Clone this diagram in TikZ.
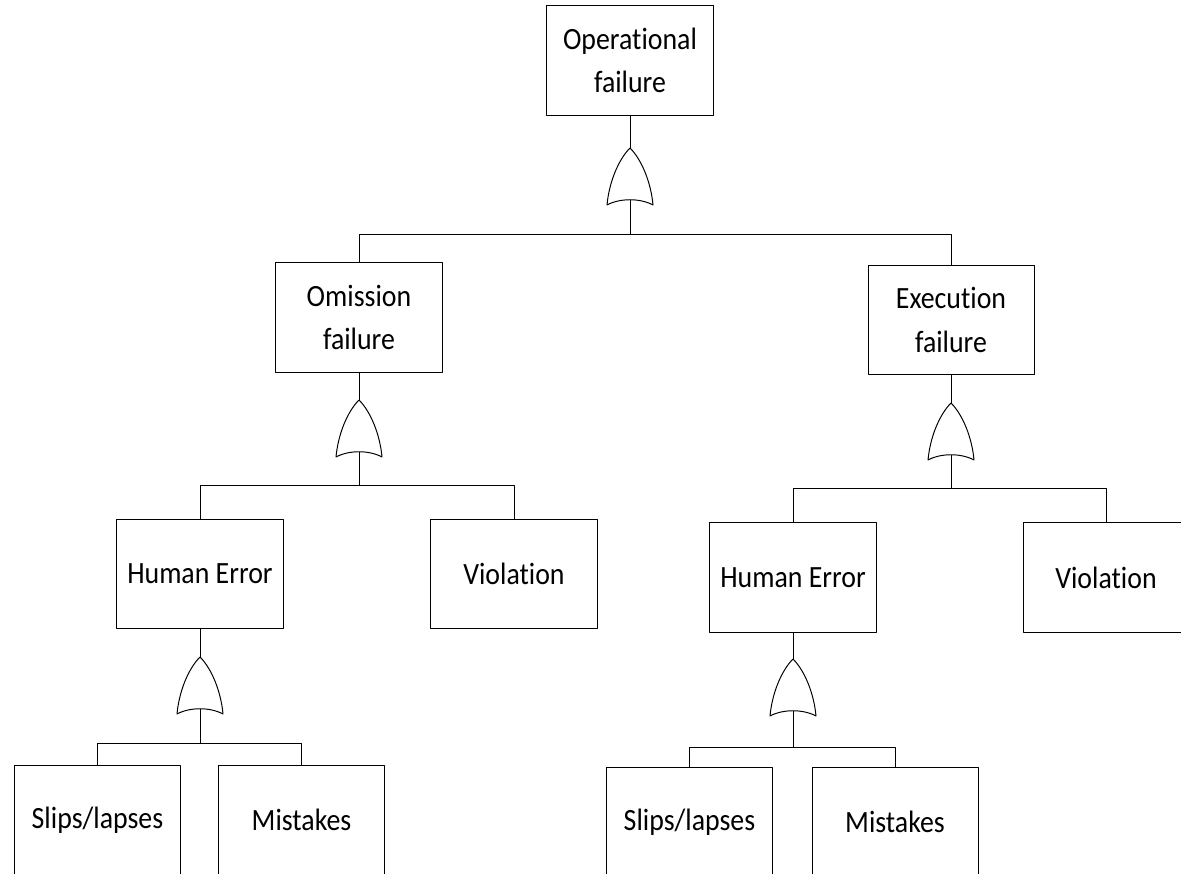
\documentclass[tikz,border=0pt]{standalone}
\usepackage{fontspec}
\setmainfont{Carlito}[Ligatures=NoCommon,FakeStretch=0.9]
\begin{document}
\begin{tikzpicture}[x=0.025cm,y=0.025cm,line join=round,line width=0.7pt]
	\tikzset{box/.style={draw,fill=white,minimum width=4.15cm,minimum height=2.725cm,inner sep=0pt,outer sep=0pt,align=center,font=\fontsize{22}{31}\selectfont},
		orgate/.pic={\draw[fill=white] (0,0) .. controls (12,-12) and (21,-35) .. (23,-57) .. controls (10,-50) and (-10,-50) .. (-23,-57) .. controls (-21,-35) and (-12,-12) .. (0,0);
			\coordinate (-top) at (0,0);
			\coordinate (-bot) at (0,-52);}}
	\clip (0,0) rectangle (1181,873);
	\node[box] (op) at (630,812.5) {Operational\\failure};
	\node[box] (om) at (359,555.5) {Omission\\failure};
	\node[box] (ex) at (951,553) {Execution\\failure};
	\node[box] (heL) at (200,299) {Human Error};
	\node[box] (viL) at (514,299) {Violation};
	\node[box] (heR) at (793,295.5) {Human Error};
	\node[box] (viR) at (1106,295.5) {Violation};
	\node[box] (slL) at (97.5,53) {Slips/lapses};
	\node[box] (miL) at (301.5,53) {Mistakes};
	\node[box] (slR) at (689.5,51) {Slips/lapses};
	\node[box] (miR) at (895,51) {Mistakes};
	\foreach \g/\x/\y/\yj in {g0/630/725/638, gom/359/473/388, gex/951/470/385, gheL/200/216/130, gheR/793/214/126}{
		\pic (\g) at (\x,\y) {orgate};
		\coordinate (j\g) at (\x,\yj);
	}
	\foreach \p/\g/\l/\r in {op/g0/om/ex, om/gom/heL/viL, ex/gex/heR/viR, heL/gheL/slL/miL, heR/gheR/slR/miR}
	\draw (\p.south) -- (\g-top) (\g-bot) -- (j\g) -| (\l.north) (j\g) -| (\r.north);
\end{tikzpicture}
\end{document}
